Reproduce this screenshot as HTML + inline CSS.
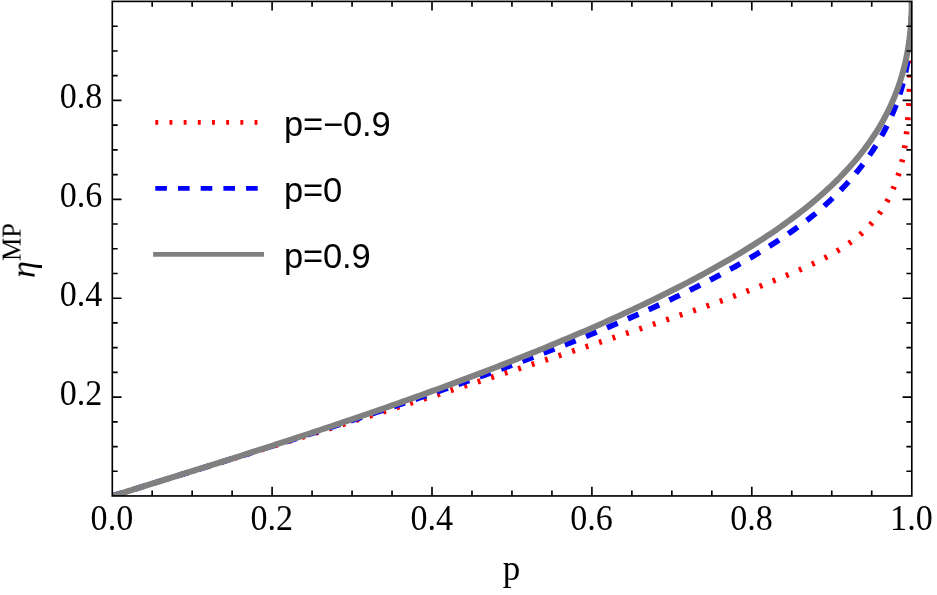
<!DOCTYPE html>
<html><head><meta charset="utf-8"><title>chart</title>
<style>
html,body{margin:0;padding:0;background:#fff;}
svg{display:block;}
text{fill:#000;}
g.s,g.l{filter:grayscale(1);}
.s{font-family:"Liberation Serif",serif;font-size:35px;}
.l{font-family:"Liberation Sans",sans-serif;font-size:34.5px;letter-spacing:-0.12px;}
</style></head><body>
<svg width="937" height="595" viewBox="0 0 937 595">
<rect width="937" height="595" fill="#fff"/>
<defs><clipPath id="c"><rect x="112.3" y="1.4" width="799.5" height="494.55"/></clipPath></defs>
<g clip-path="url(#c)" fill="none" stroke-width="5.6" stroke-linejoin="round">
<path d="M112.20,496.00 L116.20,494.76 L120.20,493.53 L124.19,492.29 L128.19,491.05 L132.19,489.82 L136.19,488.58 L140.18,487.35 L144.18,486.11 L148.18,484.87 L152.18,483.64 L156.17,482.40 L160.17,481.16 L164.17,479.93 L168.17,478.69 L172.16,477.45 L176.16,476.21 L180.16,474.98 L184.16,473.74 L188.15,472.50 L192.15,471.26 L196.15,470.03 L200.15,468.79 L204.14,467.55 L208.14,466.31 L212.14,465.07 L216.13,463.83 L220.13,462.60 L224.13,461.36 L228.13,460.12 L232.12,458.88 L236.12,457.64 L240.12,456.40 L244.12,455.16 L248.12,453.92 L252.11,452.67 L256.11,451.43 L260.11,450.19 L264.11,448.95 L268.10,447.71 L272.10,446.46 L276.10,445.22 L280.09,443.98 L284.09,442.73 L288.09,441.49 L292.09,440.25 L296.09,439.00 L300.08,437.76 L304.08,436.51 L308.08,435.26 L312.07,434.02 L316.07,432.77 L320.07,431.52 L324.07,430.28 L328.06,429.03 L332.06,427.78 L336.06,426.53 L340.06,425.28 L344.06,424.03 L348.05,422.78 L352.05,421.53 L356.05,420.28 L360.05,419.02 L364.04,417.77 L368.04,416.52 L372.04,415.26 L376.04,414.01 L380.03,412.75 L384.03,411.50 L388.03,410.24 L392.03,408.98 L396.02,407.72 L400.02,406.46 L404.02,405.21 L408.01,403.95 L412.01,402.68 L416.01,401.42 L420.01,400.16 L424.00,398.90 L428.00,397.63 L432.00,396.37 L436.00,395.10 L440.00,393.83 L443.99,392.57 L447.99,391.30 L451.99,390.03 L455.98,388.76 L459.98,387.49 L463.98,386.22 L467.98,384.94 L471.98,383.67 L475.97,382.39 L479.97,381.12 L483.97,379.84 L487.97,378.56 L491.96,377.28 L495.96,376.00 L499.96,374.72 L503.95,373.43 L507.95,372.15 L511.95,370.86 L515.95,369.58 L519.95,368.29 L523.94,367.00 L527.94,365.71 L531.94,364.42 L535.94,363.12 L539.93,361.83 L543.93,360.53 L547.93,359.23 L551.93,357.93 L555.92,356.63 L559.92,355.33 L563.92,354.02 L567.92,352.71 L571.91,351.41 L575.91,350.10 L579.91,348.78 L583.90,347.47 L587.90,346.15 L591.90,344.84 L595.90,343.52 L599.89,342.19 L603.89,340.87 L607.89,339.54 L611.89,338.22 L615.88,336.89 L619.88,335.55 L623.88,334.22 L627.88,332.88 L631.88,331.54 L635.87,330.19 L639.87,328.85 L643.87,327.50 L647.87,326.15 L651.86,324.79 L655.86,323.44 L659.86,322.08 L663.86,320.71 L667.85,319.34 L671.85,317.97 L675.62,316.56 L676.36,316.32 L677.09,316.08 L677.83,315.85 L678.56,315.61 L679.29,315.37 L680.02,315.12 L680.76,314.88 L681.49,314.64 L682.21,314.40 L682.94,314.16 L683.67,313.92 L684.40,313.68 L685.12,313.44 L685.85,313.20 L686.58,312.96 L687.30,312.71 L688.02,312.47 L688.75,312.23 L689.47,311.99 L690.19,311.74 L690.91,311.50 L691.63,311.26 L692.35,311.01 L693.07,310.77 L693.79,310.53 L694.51,310.28 L695.22,310.04 L695.94,309.80 L696.66,309.55 L697.37,309.31 L698.09,309.06 L698.80,308.82 L699.52,308.57 L700.23,308.32 L700.94,308.08 L701.65,307.83 L702.37,307.59 L703.08,307.34 L703.79,307.09 L704.50,306.85 L705.21,306.60 L705.92,306.35 L706.62,306.10 L707.33,305.86 L708.04,305.61 L708.75,305.36 L709.45,305.11 L710.16,304.86 L710.86,304.61 L711.57,304.36 L712.27,304.11 L712.98,303.86 L713.68,303.61 L714.39,303.36 L715.09,303.11 L715.79,302.86 L716.49,302.61 L717.20,302.36 L717.90,302.10 L718.60,301.85 L719.30,301.60 L720.00,301.35 L720.70,301.09 L721.40,300.84 L722.10,300.58 L722.80,300.33 L723.50,300.08 L724.20,299.82 L724.89,299.57 L725.59,299.31 L726.29,299.06 L726.99,298.80 L727.68,298.54 L728.38,298.29 L729.07,298.03 L729.77,297.77 L730.47,297.52 L731.16,297.26 L731.86,297.00 L732.55,296.74 L733.25,296.48 L733.94,296.22 L734.64,295.96 L735.33,295.70 L736.02,295.44 L736.72,295.18 L737.41,294.92 L738.10,294.66 L738.80,294.40 L739.49,294.14 L740.18,293.87 L740.88,293.61 L741.57,293.35 L742.26,293.09 L742.95,292.82 L743.64,292.56 L744.34,292.29 L745.03,292.03 L745.72,291.76 L746.41,291.50 L747.10,291.23 L747.79,290.97 L748.49,290.70 L749.18,290.43 L749.87,290.16 L750.56,289.90 L751.25,289.63 L751.94,289.36 L752.63,289.09 L753.32,288.82 L754.02,288.55 L754.71,288.28 L755.40,288.01 L756.09,287.74 L756.78,287.47 L757.47,287.19 L758.16,286.92 L758.85,286.65 L759.54,286.38 L760.23,286.10 L760.93,285.83 L761.62,285.55 L762.31,285.28 L763.00,285.00 L763.69,284.73 L764.38,284.45 L765.07,284.18 L765.76,283.90 L766.46,283.62 L767.15,283.34 L767.84,283.06 L768.53,282.79 L769.22,282.51 L769.92,282.23 L770.61,281.95 L771.30,281.67 L771.99,281.38 L772.69,281.10 L773.38,280.82 L774.07,280.54 L774.77,280.25 L775.46,279.97 L776.16,279.69 L776.85,279.40 L777.54,279.12 L778.24,278.83 L778.93,278.55 L779.63,278.26 L780.32,277.97 L781.02,277.69 L781.71,277.40 L782.41,277.11 L783.11,276.82 L783.80,276.53 L784.50,276.24 L785.20,275.95 L785.89,275.66 L786.59,275.37 L787.29,275.08 L787.99,274.78 L788.69,274.49 L789.39,274.20 L790.08,273.90 L790.78,273.61 L791.48,273.31 L792.18,273.02 L792.88,272.72 L793.58,272.42 L794.28,272.13 L794.98,271.83 L795.68,271.53 L796.38,271.23 L797.08,270.93 L797.78,270.62 L798.48,270.32 L799.18,270.02 L799.88,269.71 L800.58,269.41 L801.27,269.10 L801.97,268.79 L802.67,268.48 L803.37,268.18 L804.07,267.87 L804.76,267.55 L805.46,267.24 L806.16,266.93 L806.85,266.61 L807.55,266.30 L808.24,265.98 L808.94,265.66 L809.63,265.34 L810.32,265.02 L811.01,264.70 L811.71,264.38 L812.40,264.05 L813.09,263.73 L813.78,263.40 L814.46,263.07 L815.15,262.74 L815.84,262.41 L816.53,262.08 L817.21,261.75 L817.90,261.41 L818.58,261.07 L819.26,260.74 L819.94,260.40 L820.62,260.06 L821.30,259.71 L821.98,259.37 L822.66,259.02 L823.33,258.67 L824.01,258.33 L824.68,257.97 L825.35,257.62 L826.03,257.27 L826.70,256.91 L827.36,256.55 L828.03,256.19 L828.70,255.83 L829.36,255.47 L830.02,255.11 L830.69,254.74 L831.35,254.37 L832.00,254.00 L832.66,253.63 L833.32,253.25 L833.97,252.88 L834.62,252.50 L835.27,252.12 L835.92,251.74 L836.57,251.35 L837.22,250.97 L837.86,250.58 L838.50,250.19 L839.14,249.79 L839.78,249.40 L840.42,249.00 L841.05,248.60 L841.68,248.20 L842.31,247.80 L842.94,247.39 L843.57,246.98 L844.19,246.57 L844.81,246.16 L845.43,245.74 L846.05,245.33 L846.67,244.91 L847.28,244.48 L847.89,244.06 L848.50,243.63 L849.11,243.20 L849.72,242.77 L850.32,242.34 L850.92,241.90 L851.52,241.46 L852.11,241.02 L852.70,240.57 L853.29,240.12 L853.88,239.67 L854.47,239.22 L855.05,238.76 L855.63,238.31 L856.21,237.84 L856.78,237.38 L857.36,236.91 L857.92,236.44 L858.49,235.97 L859.06,235.50 L859.62,235.02 L860.18,234.54 L860.73,234.06 L861.28,233.57 L861.83,233.08 L862.38,232.59 L862.92,232.09 L863.47,231.59 L864.00,231.09 L864.54,230.59 L865.07,230.08 L865.60,229.57 L866.12,229.05 L866.65,228.54 L867.17,228.02 L867.68,227.49 L868.20,226.97 L868.71,226.44 L869.21,225.90 L869.71,225.37 L870.21,224.83 L870.71,224.29 L871.20,223.74 L871.69,223.19 L872.18,222.64 L872.66,222.08 L873.14,221.52 L873.62,220.96 L874.09,220.39 L874.56,219.82 L875.02,219.25 L875.49,218.68 L875.94,218.10 L876.40,217.52 L876.85,216.93 L877.30,216.35 L877.74,215.75 L878.18,215.16 L878.62,214.56 L879.06,213.97 L879.49,213.36 L879.91,212.76 L880.34,212.15 L880.76,211.54 L881.17,210.93 L881.59,210.31 L882.00,209.69 L882.40,209.07 L882.81,208.45 L883.21,207.82 L883.60,207.19 L884.00,206.56 L884.38,205.93 L884.77,205.29 L885.15,204.65 L885.53,204.01 L885.91,203.37 L886.28,202.72 L886.64,202.07 L887.01,201.42 L887.37,200.77 L887.73,200.12 L888.08,199.46 L888.43,198.80 L888.78,198.14 L889.12,197.48 L889.46,196.81 L889.80,196.14 L890.13,195.47 L890.46,194.80 L890.79,194.13 L891.11,193.45 L891.43,192.77 L891.74,192.10 L892.05,191.41 L892.36,190.73 L892.67,190.05 L892.97,189.36 L893.26,188.67 L893.56,187.98 L893.85,187.29 L894.14,186.60 L894.42,185.90 L894.70,185.21 L894.97,184.51 L895.25,183.81 L895.52,183.11 L895.78,182.41 L896.04,181.70 L896.30,181.00 L896.56,180.29 L896.81,179.58 L897.05,178.87 L897.30,178.16 L897.54,177.45 L897.78,176.74 L898.01,176.03 L898.24,175.31 L898.46,174.59 L898.69,173.88 L898.91,173.16 L899.12,172.44 L899.33,171.72 L899.54,171.00 L899.75,170.27 L899.95,169.55 L900.15,168.83 L900.34,168.10 L900.54,167.37 L900.72,166.65 L900.91,165.92 L901.09,165.19 L901.27,164.46 L901.45,163.73 L901.62,163.00 L901.79,162.27 L901.96,161.53 L902.12,160.80 L902.29,160.06 L902.44,159.33 L902.60,158.59 L902.75,157.86 L902.90,157.12 L903.05,156.38 L903.20,155.64 L903.34,154.90 L903.48,154.16 L903.62,153.42 L903.75,152.68 L903.89,151.94 L904.02,151.20 L904.14,150.46 L904.27,149.72 L904.39,148.97 L904.52,148.23 L904.63,147.49 L904.75,146.74 L904.87,146.00 L904.98,145.25 L905.09,144.51 L905.20,143.76 L905.30,143.01 L905.41,142.27 L905.51,141.52 L905.61,140.77 L905.71,140.03 L905.81,139.28 L905.90,138.53 L906.00,137.79 L906.09,137.04 L906.18,136.29 L906.27,135.54 L906.36,134.80 L906.44,134.05 L906.53,133.30 L906.61,132.55 L906.69,131.80 L906.77,131.06 L906.85,130.31 L906.93,129.56 L907.00,128.81 L907.08,128.06 L907.15,127.32 L907.22,126.57 L907.29,125.82 L907.36,125.07 L907.43,124.32 L907.50,123.58 L907.56,122.83 L907.63,122.08 L907.69,121.33 L907.75,120.58 L907.81,119.84 L907.87,119.09 L907.93,118.34 L907.99,117.59 L908.04,116.84 L908.10,116.09 L908.15,115.35 L908.20,114.60 L908.26,113.85 L908.31,113.10 L908.36,112.35 L908.40,111.61 L908.45,110.86 L908.50,110.11 L908.54,109.36 L908.59,108.61 L908.63,107.86 L908.67,107.12 L908.72,106.37 L908.76,105.62 L908.80,104.87 L908.84,104.12 L908.87,103.38 L908.91,102.63 L908.95,101.88 L908.98,101.13 L909.02,100.38 L909.05,99.63 L909.08,98.89 L909.12,98.14 L909.15,97.39 L909.18,96.64 L909.21,95.89 L909.24,95.14 L909.27,94.40 L909.30,93.65 L909.32,92.90 L909.35,92.15 L909.38,91.40 L909.40,90.65 L909.43,89.91 L909.45,89.16 L909.47,88.41 L909.50,87.66 L909.52,86.91 L909.54,86.16 L909.56,85.41 L909.58,84.67 L909.61,83.92 L909.63,83.17 L909.64,82.42 L909.66,81.67 L909.68,80.92 L909.70,80.17 L909.72,79.43 L909.74,78.68 L909.75,77.93 L909.77,77.18 L909.79,76.43 L909.80,75.68 L909.82,74.93 L909.83,74.19 L909.85,73.44 L909.86,72.69 L909.88,71.94 L909.89,71.19 L909.90,70.44 L909.92,69.69 L909.93,68.95 L909.94,68.20 L909.96,67.45 L909.97,66.70 L909.98,65.95 L910.00,65.20 L910.01,64.45 L910.02,63.70 L910.03,62.96 L910.04,62.21 L910.06,61.46 L910.07,60.71 L910.08,59.96 L910.09,59.21 L910.10,58.46 L910.12,57.71 L910.13,56.96 L910.14,56.22 L910.15,55.47 L910.16,54.72 L910.18,53.97 L910.19,53.22 L910.20,52.47 L910.21,51.72 L910.23,50.97 L910.24,50.22 L910.25,49.47 L910.26,48.73 L910.28,47.98 L910.29,47.23 L910.30,46.48 L910.32,45.73 L910.33,44.98 L910.35,44.23 L910.36,43.48 L910.38,42.73 L910.39,41.98 L910.41,41.23 L910.42,40.49 L910.44,39.74 L910.46,38.99 L910.47,38.24 L910.49,37.49 L910.51,36.74 L910.53,35.99 L910.54,35.24 L910.56,34.49 L910.58,33.74 L910.60,32.99 L910.62,32.24 L910.64,31.49 L910.67,30.75 L910.69,30.00 L910.71,29.25 L910.73,28.50 L910.76,27.75 L910.78,27.00 L910.81,26.25 L910.83,25.50 L910.86,24.75 L910.88,24.00 L910.91,23.25 L910.94,22.50 L910.97,21.75 L911.00,21.00 L911.03,20.25 L911.06,19.50 L911.09,18.75 L911.12,18.01 L911.16,17.26 L911.19,16.51 L911.23,15.76 L911.26,15.01 L911.30,14.26 L911.33,13.51 L911.37,12.76 L911.41,12.01 L911.45,11.26 L911.49,10.51 L911.53,9.76 L911.58,9.01 L911.62,8.26 L911.66,7.51 L911.71,6.76 L911.76,6.01 L911.80,5.26 L911.85,4.51 L911.90,3.76 L911.95,3.01 L912.00,2.26 L912.06,1.51" stroke="#ff0000" stroke-dasharray="2.9 11.28"/>
<path d="M112.20,496.00 L116.20,494.76 L120.20,493.53 L124.19,492.29 L128.19,491.05 L132.19,489.82 L136.19,488.58 L140.18,487.34 L144.18,486.11 L148.18,484.87 L152.18,483.63 L156.17,482.39 L160.17,481.15 L164.17,479.91 L168.17,478.67 L172.16,477.43 L176.16,476.19 L180.16,474.95 L184.16,473.71 L188.15,472.47 L192.15,471.22 L196.15,469.98 L200.15,468.73 L204.14,467.49 L208.14,466.24 L212.14,464.99 L216.13,463.74 L220.13,462.49 L224.13,461.24 L228.13,459.99 L232.12,458.74 L236.12,457.48 L240.12,456.23 L244.12,454.97 L248.12,453.71 L252.11,452.45 L256.11,451.19 L260.11,449.93 L264.11,448.66 L268.10,447.40 L272.10,446.13 L276.10,444.86 L280.09,443.59 L284.09,442.32 L288.09,441.05 L292.09,439.77 L296.09,438.49 L300.08,437.21 L304.08,435.93 L308.08,434.65 L312.07,433.36 L316.07,432.07 L320.07,430.78 L324.07,429.49 L328.06,428.20 L332.06,426.90 L336.06,425.60 L340.06,424.30 L344.06,422.99 L348.05,421.69 L352.05,420.38 L356.05,419.06 L360.05,417.75 L364.04,416.43 L368.04,415.11 L372.04,413.79 L376.04,412.46 L380.03,411.13 L384.03,409.80 L388.03,408.46 L392.03,407.12 L396.02,405.78 L400.02,404.43 L404.02,403.08 L408.01,401.73 L412.01,400.37 L416.01,399.01 L420.01,397.65 L424.00,396.28 L428.00,394.91 L432.00,393.53 L436.00,392.15 L440.00,390.77 L443.99,389.38 L447.99,387.99 L451.99,386.59 L455.98,385.19 L459.98,383.78 L463.98,382.37 L467.98,380.95 L471.98,379.53 L475.97,378.10 L479.97,376.67 L483.97,375.24 L487.97,373.79 L491.96,372.35 L495.96,370.89 L499.96,369.43 L503.95,367.97 L507.95,366.50 L511.95,365.02 L515.95,363.54 L519.95,362.05 L523.94,360.55 L527.94,359.05 L531.94,357.54 L535.94,356.03 L539.93,354.50 L543.93,352.97 L547.93,351.44 L551.93,349.89 L555.92,348.34 L559.92,346.78 L563.92,345.21 L567.92,343.63 L571.91,342.05 L575.91,340.45 L579.91,338.85 L583.90,337.24 L587.90,335.61 L591.90,333.98 L595.90,332.34 L599.89,330.69 L603.89,329.03 L607.89,327.36 L611.89,325.68 L615.88,323.99 L619.88,322.28 L623.88,320.57 L627.88,318.84 L631.88,317.10 L635.87,315.35 L639.87,313.58 L643.87,311.81 L647.87,310.01 L651.86,308.21 L655.86,306.39 L659.86,304.55 L663.86,302.70 L667.85,300.84 L671.85,298.96 L675.85,297.06 L679.85,295.14 L683.84,293.21 L687.84,291.26 L691.84,289.29 L695.84,287.30 L699.83,285.29 L703.83,283.26 L707.83,281.21 L711.83,279.14 L715.82,277.04 L719.82,274.92 L723.82,272.77 L727.82,270.60 L731.81,268.41 L735.81,266.18 L739.81,263.93 L743.81,261.64 L747.80,259.33 L751.80,256.98 L755.80,254.60 L759.80,252.18 L763.79,249.73 L767.79,247.24 L771.79,244.70 L775.79,242.12 L779.78,239.50 L783.78,236.83 L787.78,234.11 L791.77,231.34 L795.77,228.51 L799.77,225.63 L803.77,222.68 L807.76,219.66 L811.76,216.57 L815.76,213.40 L819.76,209.96 L823.76,206.42 L827.75,202.77 L831.75,199.00 L834.02,196.80 L836.23,194.63 L838.38,192.48 L840.47,190.35 L842.49,188.24 L844.46,186.15 L846.37,184.08 L848.23,182.04 L850.04,180.02 L851.79,178.01 L853.49,176.03 L855.15,174.07 L856.76,172.12 L858.32,170.20 L859.84,168.30 L861.31,166.42 L862.75,164.55 L864.14,162.71 L865.49,160.88 L866.81,159.08 L868.08,157.29 L869.32,155.52 L870.53,153.77 L871.70,152.04 L872.84,150.33 L873.94,148.63 L875.02,146.95 L876.06,145.30 L877.07,143.65 L878.06,142.03 L879.02,140.42 L879.94,138.83 L880.85,137.26 L881.73,135.70 L882.58,134.16 L883.41,132.64 L884.21,131.13 L884.99,129.64 L885.75,128.16 L886.49,126.70 L887.21,125.26 L887.90,123.83 L888.58,122.42 L889.24,121.02 L889.88,119.64 L890.50,118.27 L891.10,116.92 L891.69,115.59 L892.26,114.26 L892.81,112.95 L893.35,111.66 L893.87,110.38 L894.38,109.11 L894.87,107.86 L895.35,106.62 L895.81,105.41 L896.26,104.23 L896.70,103.07 L897.13,101.92 L897.54,100.78 L897.95,99.65 L898.34,98.54 L898.72,97.44 L899.09,96.35 L899.45,95.27 L899.79,94.20 L900.13,93.14 L900.46,92.10 L900.78,91.06 L901.09,90.04 L901.39,89.03 L901.69,88.03 L901.97,87.04 L902.25,86.06 L902.52,85.09 L902.78,84.13 L903.03,83.18 L903.28,82.24 L903.52,81.31 L903.75,80.39 L903.98,79.48 L904.20,78.58 L904.41,77.69 L904.62,76.81 L904.82,75.94 L905.01,75.08 L905.20,74.23 L905.39,73.39 L905.57,72.56 L905.74,71.73 L905.91,70.92 L906.08,70.11 L906.24,69.31 L906.39,68.53 L906.54,67.75 L906.69,66.97 L906.83,66.21 L906.97,65.46 L907.11,64.71 L907.24,63.97 L907.36,63.24 L907.49,62.52 L907.61,61.81 L907.72,61.10 L907.84,60.40 L907.95,59.71 L908.05,59.03 L908.16,58.35 L908.26,57.68 L908.36,57.02 L908.45,56.37 L908.54,55.72 L908.63,55.08 L908.72,54.45 L908.80,53.83 L908.89,53.21 L908.97,52.60 L909.04,52.00 L909.12,51.40 L909.19,50.81 L909.26,50.22 L909.33,49.65 L909.40,49.08 L909.47,48.51 L909.53,47.95 L909.59,47.40 L909.65,46.86 L909.71,46.32 L909.77,45.78 L909.82,45.26 L909.88,44.74 L909.93,44.22 L909.98,43.71 L910.03,43.21 L910.07,42.71 L910.12,42.22 L910.17,41.73 L910.21,41.25 L910.25,40.77 L910.29,40.30 L910.33,39.84 L910.37,39.38 L910.41,38.93 L910.45,38.48 L910.48,38.03 L910.52,37.60 L910.55,37.16 L910.58,36.73 L910.61,36.31 L910.65,35.89 L910.68,35.48 L910.70,35.07 L910.73,34.66 L910.76,34.26 L910.79,33.87 L910.81,33.48 L910.84,33.09 L910.86,32.71 L910.89,32.33 L910.91,31.96 L910.93,31.59 L910.95,31.23 L910.98,30.87 L911.00,30.51 L911.02,30.16 L911.04,29.81 L911.05,29.47 L911.07,29.13 L911.09,28.80 L911.11,28.46 L911.12,28.14 L911.14,27.81 L911.16,27.49 L911.17,27.18 L911.19,26.87 L911.20,26.56 L911.22,26.25 L911.23,25.95 L911.24,25.65 L911.26,25.36 L911.27,25.07 L911.28,24.78 L911.29,24.50 L911.30,24.22 L911.32,23.94 L911.33,23.66 L911.34,23.39 L911.35,23.13 L911.36,22.86 L911.37,22.60 L911.38,22.34 L911.39,22.09 L911.40,21.83 L911.40,21.59 L911.41,21.34 L911.42,21.10 L911.43,20.86 L911.44,20.62 L911.44,20.38 L911.45,20.15 L911.46,19.92 L911.46,19.70 L911.47,19.47 L911.48,19.25 L911.48,19.03 L911.49,18.82 L911.50,18.61 L911.50,18.40 L911.51,18.19 L911.51,17.98 L911.52,17.78 L911.52,17.58 L911.53,17.38 L911.53,17.19 L911.54,16.99 L911.54,16.80 L911.55,16.61 L911.55,16.43 L911.56,16.24 L911.56,16.06 L911.56,15.88 L911.57,15.70 L911.57,15.53 L911.58,15.35 L911.58,15.18 L911.58,15.01 L911.59,14.85 L911.59,14.68 L911.59,14.52 L911.60,14.36 L911.60,14.20 L911.60,14.04 L911.60,13.89 L911.61,13.73 L911.61,13.58 L911.61,13.43 L911.61,13.28 L911.62,13.14 L911.62,12.99 L911.62,12.85 L911.62,12.71 L911.63,12.57 L911.63,12.44 L911.63,12.30 L911.63,12.17 L911.63,12.03 L911.64,11.90 L911.64,11.77 L911.64,11.65 L911.64,11.52 L911.64,11.40 L911.64,11.27 L911.65,11.15 L911.65,11.03 L911.65,10.91 L911.65,10.80 L911.65,10.68 L911.65,10.57 L911.65,10.45 L911.66,10.34 L911.66,10.23 L911.66,10.12 L911.66,10.02 L911.66,9.91 L911.66,9.81 L911.66,9.70 L911.66,9.60 L911.66,9.50 L911.67,9.40 L911.67,9.30 L911.67,9.20 L911.67,9.11 L911.67,9.01 L911.67,8.92 L911.67,8.83 L911.67,8.74 L911.67,8.64 L911.67,8.56 L911.67,8.47 L911.68,8.38 L911.68,8.29 L911.68,8.21 L911.68,8.13 L911.68,8.04 L911.68,7.96 L911.68,7.88 L911.68,7.80 L911.68,7.72 L911.68,7.65 L911.68,7.57 L911.68,7.49 L911.68,7.42 L911.68,7.34 L911.68,7.27 L911.68,7.20 L911.68,7.13 L911.68,7.06 L911.69,6.99 L911.69,6.92 L911.69,6.85 L911.69,6.78 L911.69,6.72 L911.69,6.65 L911.69,6.59 L911.69,6.52 L911.69,6.46 L911.69,6.40 L911.69,6.34 L911.69,6.28 L911.69,6.22 L911.69,6.16 L911.69,6.10 L911.69,6.04 L911.69,5.99 L911.69,5.93 L911.69,5.87 L911.69,5.82 L911.69,5.77 L911.69,5.71 L911.69,5.66 L911.69,5.61 L911.69,5.56 L911.69,5.51 L911.69,5.45 L911.69,5.41 L911.69,5.36 L911.69,5.31 L911.69,5.26 L911.69,5.21 L911.69,5.17 L911.69,5.12 L911.69,5.08 L911.69,5.03 L911.69,4.99 L911.69,4.94 L911.70,4.90 L911.70,4.86 L911.70,4.81 L911.70,4.77 L911.70,4.73 L911.70,4.69 L911.70,4.65 L911.70,4.61 L911.70,4.57 L911.70,4.53 L911.70,4.50 L911.70,4.46 L911.70,4.42 L911.70,4.38 L911.70,4.35 L911.70,4.31 L911.70,4.28 L911.70,4.24 L911.70,4.21 L911.70,4.17 L911.70,4.14 L911.70,4.11 L911.70,4.07 L911.70,4.04 L911.70,4.01 L911.70,3.98 L911.70,3.95 L911.70,3.92 L911.70,3.89 L911.70,3.86 L911.70,3.83 L911.70,3.80 L911.70,3.77 L911.70,3.74 L911.70,3.71 L911.70,3.68 L911.70,3.66 L911.70,3.63 L911.70,3.60 L911.70,3.58 L911.70,3.55 L911.70,3.52 L911.70,3.50 L911.70,3.47 L911.70,3.45 L911.70,3.42 L911.70,3.40 L911.70,3.38 L911.70,3.35 L911.70,3.33 L911.70,3.31 L911.70,3.28 L911.70,3.26 L911.70,3.24 L911.70,3.22 L911.70,3.20 L911.70,3.17 L911.70,3.15 L911.70,3.13 L911.70,3.11 L911.70,3.09 L911.70,3.07 L911.70,3.05 L911.70,3.03 L911.70,1.50" stroke="#0000ff" stroke-dasharray="11.6 11.13"/>
<path d="M112.20,496.00 L116.20,494.76 L120.20,493.53 L124.19,492.29 L128.19,491.05 L132.19,489.82 L136.19,488.58 L140.18,487.34 L144.18,486.10 L148.18,484.86 L152.18,483.62 L156.17,482.38 L160.17,481.14 L164.17,479.90 L168.17,478.66 L172.16,477.41 L176.16,476.17 L180.16,474.92 L184.16,473.67 L188.15,472.42 L192.15,471.17 L196.15,469.92 L200.15,468.66 L204.14,467.41 L208.14,466.15 L212.14,464.89 L216.13,463.63 L220.13,462.37 L224.13,461.10 L228.13,459.84 L232.12,458.57 L236.12,457.30 L240.12,456.02 L244.12,454.75 L248.12,453.47 L252.11,452.19 L256.11,450.91 L260.11,449.62 L264.11,448.33 L268.10,447.04 L272.10,445.75 L276.10,444.45 L280.09,443.16 L284.09,441.85 L288.09,440.55 L292.09,439.24 L296.09,437.93 L300.08,436.62 L304.08,435.30 L308.08,433.98 L312.07,432.66 L316.07,431.34 L320.07,430.01 L324.07,428.67 L328.06,427.34 L332.06,426.00 L336.06,424.65 L340.06,423.31 L344.06,421.95 L348.05,420.60 L352.05,419.24 L356.05,417.88 L360.05,416.51 L364.04,415.14 L368.04,413.77 L372.04,412.39 L376.04,411.01 L380.03,409.62 L384.03,408.23 L388.03,406.83 L392.03,405.43 L396.02,404.03 L400.02,402.62 L404.02,401.20 L408.01,399.78 L412.01,398.36 L416.01,396.93 L420.01,395.50 L424.00,394.06 L428.00,392.62 L432.00,391.17 L436.00,389.72 L440.00,388.26 L443.99,386.79 L447.99,385.32 L451.99,383.85 L455.98,382.36 L459.98,380.88 L463.98,379.38 L467.98,377.89 L471.98,376.38 L475.97,374.87 L479.97,373.35 L483.97,371.83 L487.97,370.30 L491.96,368.77 L495.96,367.22 L499.96,365.67 L503.95,364.12 L507.95,362.56 L511.95,360.99 L515.95,359.41 L519.95,357.82 L523.94,356.23 L527.94,354.63 L531.94,353.03 L535.94,351.41 L539.93,349.79 L543.93,348.16 L547.93,346.52 L551.93,344.87 L555.92,343.22 L559.92,341.55 L563.92,339.88 L567.92,338.20 L571.91,336.51 L575.91,334.81 L579.91,333.10 L583.90,331.38 L587.90,329.65 L591.90,327.91 L595.90,326.16 L599.89,324.40 L603.89,322.62 L607.89,320.84 L611.89,319.05 L615.88,317.24 L619.88,315.42 L623.88,313.59 L627.88,311.75 L631.88,309.89 L635.87,308.02 L639.87,306.14 L643.87,304.24 L647.87,302.33 L651.86,300.41 L655.86,298.47 L659.86,296.51 L663.86,294.54 L667.85,292.55 L671.85,290.55 L675.85,288.53 L679.85,286.49 L683.84,284.43 L687.84,282.35 L691.84,280.26 L695.84,278.14 L699.83,276.00 L703.83,273.84 L707.83,271.66 L711.83,269.46 L715.82,267.23 L719.82,264.97 L723.82,262.69 L727.82,260.39 L731.81,258.05 L735.81,255.69 L739.81,253.30 L743.81,250.87 L747.80,248.41 L751.80,245.92 L755.80,243.39 L759.80,240.83 L763.79,238.23 L767.79,235.58 L771.79,232.89 L775.79,230.16 L779.78,227.38 L783.78,224.55 L787.78,221.66 L791.77,218.73 L795.77,215.73 L799.77,212.66 L803.77,209.54 L807.76,206.34 L811.76,203.06 L815.76,199.71 L819.76,196.26 L823.76,192.73 L827.75,189.09 L831.75,185.35 L834.02,183.16 L836.23,181.01 L838.38,178.87 L840.47,176.76 L842.49,174.67 L844.46,172.60 L846.37,170.56 L848.23,168.53 L850.04,166.53 L851.79,164.56 L853.49,162.60 L855.15,160.66 L856.76,158.74 L858.32,156.85 L859.84,154.97 L861.31,153.12 L862.75,151.29 L864.14,149.47 L865.49,147.67 L866.81,145.90 L868.08,144.14 L869.32,142.40 L870.53,140.68 L871.70,138.98 L872.84,137.30 L873.94,135.64 L875.02,133.99 L876.06,132.36 L877.07,130.75 L878.06,129.16 L879.02,127.59 L879.94,126.03 L880.85,124.49 L881.73,122.97 L882.58,121.46 L883.41,119.97 L884.21,118.49 L884.99,117.04 L885.75,115.60 L886.49,114.17 L887.21,112.76 L887.90,111.37 L888.58,109.99 L889.24,108.63 L889.88,107.28 L890.50,105.95 L891.10,104.63 L891.69,103.33 L892.26,102.05 L892.81,100.77 L893.35,99.52 L893.87,98.27 L894.38,97.04 L894.87,95.83 L895.35,94.63 L895.81,93.44 L896.26,92.27 L896.70,91.11 L897.13,89.96 L897.54,88.83 L897.95,87.71 L898.34,86.60 L898.72,85.51 L899.09,84.43 L899.45,83.36 L899.79,82.31 L900.13,81.26 L900.46,80.23 L900.78,79.22 L901.09,78.21 L901.39,77.22 L901.69,76.23 L901.97,75.26 L902.25,74.30 L902.52,73.36 L902.78,72.42 L903.03,71.50 L903.28,70.58 L903.52,69.68 L903.75,68.79 L903.98,67.91 L904.20,67.04 L904.41,66.18 L904.62,65.33 L904.82,64.50 L905.01,63.67 L905.20,62.85 L905.39,62.04 L905.57,61.24 L905.74,60.46 L905.91,59.68 L906.08,58.91 L906.24,58.15 L906.39,57.40 L906.54,56.66 L906.69,55.93 L906.83,55.21 L906.97,54.50 L907.11,53.79 L907.24,53.10 L907.36,52.41 L907.49,51.74 L907.61,51.07 L907.72,50.41 L907.84,49.75 L907.95,49.11 L908.05,48.47 L908.16,47.85 L908.26,47.23 L908.36,46.62 L908.45,46.01 L908.54,45.42 L908.63,44.83 L908.72,44.25 L908.80,43.67 L908.89,43.11 L908.97,42.55 L909.04,42.00 L909.12,41.45 L909.19,40.91 L909.26,40.38 L909.33,39.86 L909.40,39.34 L909.47,38.83 L909.53,38.33 L909.59,37.83 L909.65,37.34 L909.71,36.86 L909.77,36.38 L909.82,35.91 L909.88,35.44 L909.93,34.98 L909.98,34.53 L910.03,34.08 L910.07,33.64 L910.12,33.20 L910.17,32.77 L910.21,32.35 L910.25,31.93 L910.29,31.51 L910.33,31.11 L910.37,30.70 L910.41,30.31 L910.45,29.91 L910.48,29.53 L910.52,29.14 L910.55,28.77 L910.58,28.40 L910.61,28.03 L910.65,27.67 L910.68,27.31 L910.70,26.96 L910.73,26.61 L910.76,26.27 L910.79,25.93 L910.81,25.59 L910.84,25.26 L910.86,24.94 L910.89,24.62 L910.91,24.30 L910.93,23.99 L910.95,23.68 L910.98,23.38 L911.00,23.08 L911.02,22.78 L911.04,22.49 L911.05,22.20 L911.07,21.92 L911.09,21.64 L911.11,21.36 L911.12,21.09 L911.14,20.82 L911.16,20.55 L911.17,20.29 L911.19,20.03 L911.20,19.78 L911.22,19.53 L911.23,19.28 L911.24,19.03 L911.26,18.79 L911.27,18.55 L911.28,18.32 L911.29,18.09 L911.30,17.86 L911.32,17.63 L911.33,17.41 L911.34,17.19 L911.35,16.97 L911.36,16.76 L911.37,16.55 L911.38,16.34 L911.39,16.14 L911.40,15.93 L911.40,15.73 L911.41,15.54 L911.42,15.34 L911.43,15.15 L911.44,14.96 L911.44,14.78 L911.45,14.59 L911.46,14.41 L911.46,14.23 L911.47,14.06 L911.48,13.88 L911.48,13.71 L911.49,13.54 L911.50,13.38 L911.50,13.21 L911.51,13.05 L911.51,12.89 L911.52,12.73 L911.52,12.58 L911.53,12.42 L911.53,12.27 L911.54,12.12 L911.54,11.97 L911.55,11.83 L911.55,11.68 L911.56,11.54 L911.56,11.40 L911.56,11.27 L911.57,11.13 L911.57,11.00 L911.58,10.86 L911.58,10.73 L911.58,10.61 L911.59,10.48 L911.59,10.35 L911.59,10.23 L911.60,10.11 L911.60,9.99 L911.60,9.87 L911.60,9.76 L911.61,9.64 L911.61,9.53 L911.61,9.42 L911.61,9.31 L911.62,9.20 L911.62,9.09 L911.62,8.98 L911.62,8.88 L911.63,8.78 L911.63,8.68 L911.63,8.58 L911.63,8.48 L911.63,8.38 L911.64,8.28 L911.64,8.19 L911.64,8.10 L911.64,8.01 L911.64,7.91 L911.64,7.83 L911.65,7.74 L911.65,7.65 L911.65,7.56 L911.65,7.48 L911.65,7.40 L911.65,7.31 L911.65,7.23 L911.66,7.15 L911.66,7.07 L911.66,7.00 L911.66,6.92 L911.66,6.84 L911.66,6.77 L911.66,6.70 L911.66,6.62 L911.66,6.55 L911.67,6.48 L911.67,6.41 L911.67,6.34 L911.67,6.28 L911.67,6.21 L911.67,6.14 L911.67,6.08 L911.67,6.01 L911.67,5.95 L911.67,5.89 L911.67,5.83 L911.68,5.77 L911.68,5.71 L911.68,5.65 L911.68,5.59 L911.68,5.53 L911.68,5.48 L911.68,5.42 L911.68,5.37 L911.68,5.31 L911.68,5.26 L911.68,5.21 L911.68,5.16 L911.68,5.10 L911.68,5.05 L911.68,5.00 L911.68,4.96 L911.68,4.91 L911.68,4.86 L911.69,4.81 L911.69,4.77 L911.69,4.72 L911.69,4.68 L911.69,4.63 L911.69,4.59 L911.69,4.54 L911.69,4.50 L911.69,4.46 L911.69,4.42 L911.69,4.38 L911.69,4.34 L911.69,4.30 L911.69,4.26 L911.69,4.22 L911.69,4.18 L911.69,4.14 L911.69,4.11 L911.69,4.07 L911.69,4.03 L911.69,4.00 L911.69,3.96 L911.69,3.93 L911.69,3.90 L911.69,3.86 L911.69,3.83 L911.69,3.80 L911.69,3.76 L911.69,3.73 L911.69,3.70 L911.69,3.67 L911.69,3.64 L911.69,3.61 L911.69,3.58 L911.69,3.55 L911.69,3.52 L911.69,3.49 L911.69,3.47 L911.70,3.44 L911.70,3.41 L911.70,3.38 L911.70,3.36 L911.70,3.33 L911.70,3.31 L911.70,3.28 L911.70,3.26 L911.70,3.23 L911.70,3.21 L911.70,3.18 L911.70,3.16 L911.70,3.14 L911.70,3.11 L911.70,3.09 L911.70,3.07 L911.70,3.05 L911.70,3.03 L911.70,3.00 L911.70,2.98 L911.70,2.96 L911.70,2.94 L911.70,2.92 L911.70,2.90 L911.70,2.88 L911.70,2.86 L911.70,2.84 L911.70,2.82 L911.70,2.81 L911.70,2.79 L911.70,2.77 L911.70,2.75 L911.70,2.73 L911.70,2.72 L911.70,2.70 L911.70,2.68 L911.70,2.67 L911.70,2.65 L911.70,2.63 L911.70,2.62 L911.70,2.60 L911.70,2.59 L911.70,2.57 L911.70,2.56 L911.70,2.54 L911.70,2.53 L911.70,2.51 L911.70,2.50 L911.70,2.48 L911.70,2.47 L911.70,2.46 L911.70,2.44 L911.70,2.43 L911.70,2.42 L911.70,2.40 L911.70,2.39 L911.70,2.38 L911.70,2.37 L911.70,2.35 L911.70,2.34 L911.70,2.33 L911.70,2.32 L911.70,2.31 L911.70,2.30 L911.70,1.50" stroke="#808080" stroke-width="6.0"/>
</g>
<g fill="none" stroke="#000" stroke-width="1.65">
<path d="M152.18,495.95 v-5.4 M152.18,1.4 v5.4 M192.15,495.95 v-5.4 M192.15,1.4 v5.4 M232.12,495.95 v-5.4 M232.12,1.4 v5.4 M272.10,495.95 v-9.2 M272.10,1.4 v9.2 M312.07,495.95 v-5.4 M312.07,1.4 v5.4 M352.05,495.95 v-5.4 M352.05,1.4 v5.4 M392.03,495.95 v-5.4 M392.03,1.4 v5.4 M432.00,495.95 v-9.2 M432.00,1.4 v9.2 M471.98,495.95 v-5.4 M471.98,1.4 v5.4 M511.95,495.95 v-5.4 M511.95,1.4 v5.4 M551.93,495.95 v-5.4 M551.93,1.4 v5.4 M591.90,495.95 v-9.2 M591.90,1.4 v9.2 M631.88,495.95 v-5.4 M631.88,1.4 v5.4 M671.85,495.95 v-5.4 M671.85,1.4 v5.4 M711.83,495.95 v-5.4 M711.83,1.4 v5.4 M751.80,495.95 v-9.2 M751.80,1.4 v9.2 M791.78,495.95 v-5.4 M791.78,1.4 v5.4 M831.75,495.95 v-5.4 M831.75,1.4 v5.4 M871.73,495.95 v-5.4 M871.73,1.4 v5.4 M112.3,471.27 h5.4 M911.8,471.27 h-5.4 M112.3,446.55 h5.4 M911.8,446.55 h-5.4 M112.3,421.82 h5.4 M911.8,421.82 h-5.4 M112.3,397.10 h9.2 M911.8,397.10 h-9.2 M112.3,372.38 h5.4 M911.8,372.38 h-5.4 M112.3,347.65 h5.4 M911.8,347.65 h-5.4 M112.3,322.92 h5.4 M911.8,322.92 h-5.4 M112.3,298.20 h9.2 M911.8,298.20 h-9.2 M112.3,273.48 h5.4 M911.8,273.48 h-5.4 M112.3,248.75 h5.4 M911.8,248.75 h-5.4 M112.3,224.02 h5.4 M911.8,224.02 h-5.4 M112.3,199.30 h9.2 M911.8,199.30 h-9.2 M112.3,174.57 h5.4 M911.8,174.57 h-5.4 M112.3,149.85 h5.4 M911.8,149.85 h-5.4 M112.3,125.12 h5.4 M911.8,125.12 h-5.4 M112.3,100.40 h9.2 M911.8,100.40 h-9.2 M112.3,75.67 h5.4 M911.8,75.67 h-5.4 M112.3,50.95 h5.4 M911.8,50.95 h-5.4 M112.3,26.22 h5.4 M911.8,26.22 h-5.4"/>
<rect x="112.3" y="1.4" width="799.5" height="494.55"/>
</g>
<g class="s"><text transform="translate(111.9,530.2) scale(0.975,1)" text-anchor="middle">0.0</text><text transform="translate(271.8,530.2) scale(0.975,1)" text-anchor="middle">0.2</text><text transform="translate(431.7,530.2) scale(0.975,1)" text-anchor="middle">0.4</text><text transform="translate(591.6,530.2) scale(0.975,1)" text-anchor="middle">0.6</text><text transform="translate(751.5,530.2) scale(0.975,1)" text-anchor="middle">0.8</text><text transform="translate(911.4,530.2) scale(0.975,1)" text-anchor="middle">1.0</text><text transform="translate(102.3,404.6) scale(0.975,1)" text-anchor="end">0.2</text><text transform="translate(102.3,305.7) scale(0.975,1)" text-anchor="end">0.4</text><text transform="translate(102.3,206.8) scale(0.975,1)" text-anchor="end">0.6</text><text transform="translate(102.3,107.9) scale(0.975,1)" text-anchor="end">0.8</text>
<text x="511.5" y="580" text-anchor="middle">p</text>
<g transform="translate(34.6,278.0) rotate(-90)"><text x="0" y="0"><tspan font-style="italic" font-size="34">η</tspan><tspan dy="-13.6" font-size="26.3">MP</tspan></text></g>
</g>
<g fill="none" stroke-width="4.9">
<path d="M155.3,122.4 H261.6" stroke="#ff0000" stroke-dasharray="2.9 11.28"/>
<path d="M155.3,188.4 H261.6" stroke="#0000ff" stroke-dasharray="11.6 11.1"/>
<path d="M153.1,254.4 H264" stroke="#808080"/>
</g>
<g class="l">
<text x="283.9" y="135.5">p=−0.9</text>
<text x="283.9" y="201.5">p=0</text>
<text x="283.9" y="267.5">p=0.9</text>
</g>
</svg>
</body></html>
